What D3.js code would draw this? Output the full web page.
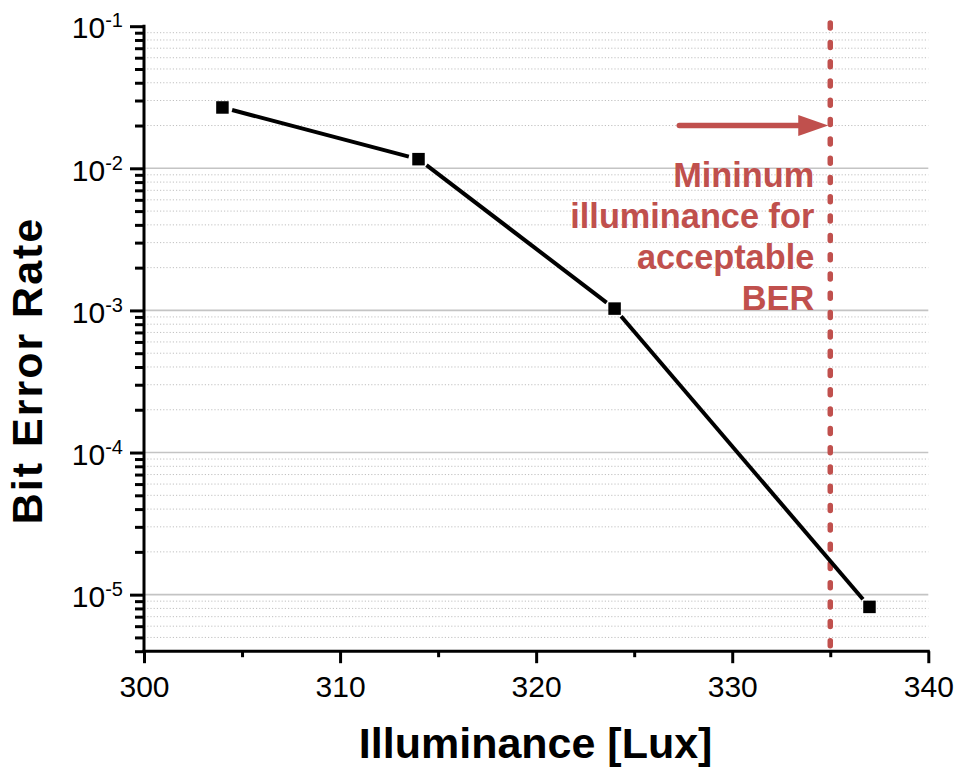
<!DOCTYPE html>
<html>
<head>
<meta charset="utf-8">
<script src="https://cdn.jsdelivr.net/npm/d3@7"></script>
<style>
  body { margin: 0; background: #fff; }
  svg { display: block; }
  text { font-family: "Liberation Sans", Arial, Helvetica, sans-serif; }
</style>
</head>
<body>
<svg id="chart" width="956" height="767"></svg>
<script>
// Measured bit error rate against illuminance
const illuminance = [304, 314, 324, 337];
const bitErrorRate = [0.0268, 0.0116, 0.00103, 8.2e-6];

// Axis ticks
const xMajorTicks = [300, 310, 320, 330, 340];
const xMinorTicks = [305, 315, 325, 335];
const yDecades = [1e-5, 1e-4, 1e-3, 1e-2, 1e-1];
const yDecadeExponents = [-5, -4, -3, -2, -1];

// Threshold annotation
const thresholdLux = 335;
const arrowStartLux = 327.3;
const arrowLevel = 0.02;
const annotationLines = ["Mininum", "illuminance for", "acceptable", "BER"];

const plot = { left: 144, right: 928.3, top: 26.2, bottom: 651.2 };
const red = "#c0504d";

const svg = d3.select("#chart");

const x = d3.scaleLinear().domain([300, 340]).range([plot.left, plot.right]);
const y = d3.scaleLog().domain([4e-6, 0.1]).range([plot.bottom, plot.top]);

// Minor log ticks: 2..9 within each decade, clipped to the domain
const yMinorTicks = [];
[1e-6, 1e-5, 1e-4, 1e-3, 1e-2].forEach(d => {
  for (let k = 2; k <= 9; k++) {
    const v = +(k * d).toPrecision(3);
    if (v >= 3.99e-6 && v < 0.1) yMinorTicks.push(v);
  }
});

// Grid: dotted minor lines, solid major lines
const grid = svg.append("g");
grid.selectAll("line.minor")
  .data(yMinorTicks.filter(v => v > 4.01e-6))
  .join("line")
  .attr("class", "minor")
  .attr("x1", plot.left).attr("x2", plot.right)
  .attr("y1", d => y(d)).attr("y2", d => y(d))
  .attr("stroke", "#c0c0c0")
  .attr("stroke-width", 1)
  .attr("stroke-dasharray", "1.2 2");
grid.selectAll("line.major")
  .data(yDecades.filter(v => v < 0.1))
  .join("line")
  .attr("class", "major")
  .attr("x1", plot.left).attr("x2", plot.right)
  .attr("y1", d => y(d)).attr("y2", d => y(d))
  .attr("stroke", "#c4c4c4")
  .attr("stroke-width", 1.6);

// Threshold line
svg.append("line")
  .attr("x1", x(thresholdLux)).attr("x2", x(thresholdLux))
  .attr("y1", y(0.11) + 2.8).attr("y2", y(4e-6) - 2)
  .attr("stroke", red)
  .attr("stroke-width", 5.5)
  .attr("stroke-linecap", "round")
  .attr("stroke-dasharray", "5 14.3");

// Data line, drawn as segments with small gaps around each marker
const pts = illuminance.map((v, i) => [x(v), y(bitErrorRate[i])]);
const gap = 10;
const segs = d3.pairs(pts).map(([a, b]) => {
  const dx = b[0] - a[0], dy = b[1] - a[1];
  const len = Math.hypot(dx, dy);
  const ux = dx / len, uy = dy / len;
  return [a[0] + ux * gap, a[1] + uy * gap, b[0] - ux * gap, b[1] - uy * gap];
});
svg.append("g").selectAll("line")
  .data(segs)
  .join("line")
  .attr("x1", d => d[0]).attr("y1", d => d[1])
  .attr("x2", d => d[2]).attr("y2", d => d[3])
  .attr("stroke", "#000")
  .attr("stroke-width", 4);

const ms = 12.5;
svg.append("g").selectAll("rect")
  .data(pts)
  .join("rect")
  .attr("x", d => d[0] - ms / 2).attr("y", d => d[1] - ms / 2)
  .attr("width", ms).attr("height", ms)
  .attr("fill", "#000");

// Arrow pointing at the threshold
const ay = y(arrowLevel);
const tipX = x(thresholdLux) - 2;
const headLen = 30, headHalf = 10.5;
svg.append("line")
  .attr("x1", x(arrowStartLux)).attr("x2", tipX - headLen + 2)
  .attr("y1", ay).attr("y2", ay)
  .attr("stroke", red).attr("stroke-width", 5.5)
  .attr("stroke-linecap", "round");
svg.append("path")
  .attr("d", `M${tipX},${ay} L${tipX - headLen},${ay - headHalf} L${tipX - headLen},${ay + headHalf} Z`)
  .attr("fill", red);

// Annotation text
const ann = svg.append("text")
  .attr("text-anchor", "end")
  .attr("font-size", 34.3)
  .attr("font-weight", "bold")
  .attr("fill", red);
annotationLines.forEach((t, i) => {
  ann.append("tspan")
    .attr("x", x(thresholdLux) - 16)
    .attr("y", y(1e-2) + 18.5 + i * 41)
    .text(t);
});

// X axis: major ticks with labels, minor ticks without
const xAxis = svg.append("g").attr("transform", `translate(0,${plot.bottom})`);
const xMinor = xAxis.append("g")
  .call(d3.axisBottom(x).tickValues(xMinorTicks).tickSize(6).tickSizeOuter(0).tickFormat(""));
xMinor.select(".domain").remove();
xMinor.selectAll("text").remove();
const xMajor = xAxis.append("g")
  .call(d3.axisBottom(x).tickValues(xMajorTicks).tickSize(12).tickSizeOuter(0).tickFormat(d3.format("d")));
xMajor.select(".domain").attr("stroke", "#000").attr("stroke-width", 3)
  .attr("d", `M${plot.left - 1.5},0H${plot.right + 1.5}`);
xAxis.selectAll(".tick line").attr("stroke", "#000").attr("stroke-width", 3);
xMajor.selectAll(".tick text")
  .attr("y", 45.5).attr("dy", 0)
  .attr("font-size", 30)
  .attr("fill", "#000")
  .attr("font-family", "'Liberation Sans', Arial, sans-serif");

// Y axis: decade ticks with 10^n labels, minor ticks without
const yAxis = svg.append("g").attr("transform", `translate(${plot.left},0)`);
const yMinor = yAxis.append("g")
  .call(d3.axisLeft(y).tickValues(yMinorTicks).tickSize(9).tickSizeOuter(0).tickFormat(""));
yMinor.select(".domain").remove();
yMinor.selectAll("text").remove();
const yMajor = yAxis.append("g")
  .call(d3.axisLeft(y).tickValues(yDecades).tickSize(14).tickSizeOuter(0).tickPadding(7));
yMajor.select(".domain").attr("stroke", "#000").attr("stroke-width", 3)
  .attr("d", `M0,${plot.top - 1.5}V${plot.bottom + 1.5}`);
yAxis.selectAll(".tick line").attr("stroke", "#000").attr("stroke-width", 3);
yMajor.selectAll(".tick text").each(function(d) {
  const t = d3.select(this);
  t.text("")
    .attr("dy", 0)
    .attr("y", 11.7)
    .attr("font-size", 30)
    .attr("fill", "#000")
    .attr("font-family", "'Liberation Sans', Arial, sans-serif");
  t.append("tspan").text("10");
  t.append("tspan").attr("font-size", 20).attr("dy", -11)
    .text("-" + String(-yDecadeExponents[yDecades.indexOf(d)]));
});

// Axis titles
svg.append("text")
  .attr("x", (plot.left + plot.right) / 2 - 0.5)
  .attr("y", 758)
  .attr("text-anchor", "middle")
  .attr("font-size", 43)
  .attr("font-weight", "bold")
  .text("Illuminance [Lux]");

svg.append("text")
  .attr("transform", "translate(41.7,370.5) rotate(-90)")
  .attr("text-anchor", "middle")
  .attr("font-size", 43)
  .attr("font-weight", "bold")
  .attr("letter-spacing", 2)
  .text("Bit Error Rate");
</script>
</body>
</html>
